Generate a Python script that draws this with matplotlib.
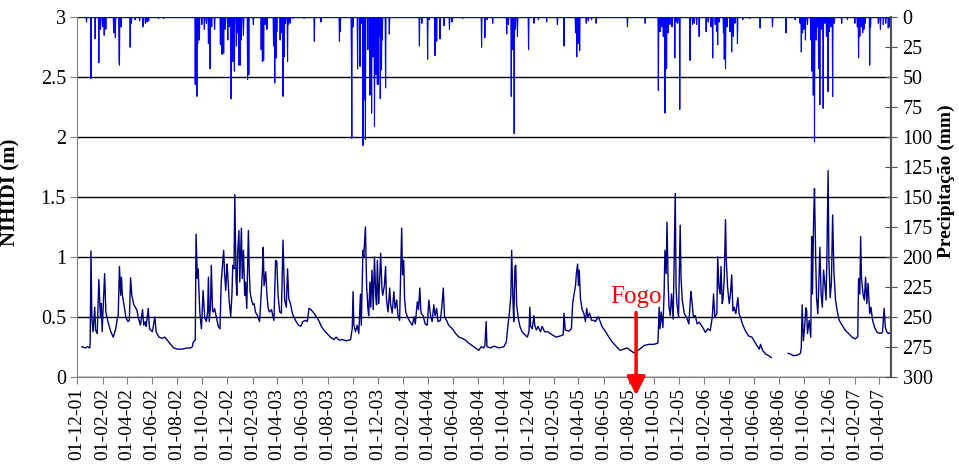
import numpy as np
import pandas as pd
import matplotlib
matplotlib.use("Agg")
import matplotlib.pyplot as plt
import matplotlib.dates as mdates
from matplotlib.ticker import FuncFormatter

# dias contados a partir de 01-12-2001
inicio = pd.Timestamp("2001-12-01")
n_dias = 1975

# NIHIDI (m) - nivel
nihidi_dia = [
    12, 20, 25, 31, 32, 34, 36, 39, 43, 45,
    49, 53, 57, 59, 61, 67, 70, 75, 82, 88,
    94, 98, 100, 103, 106, 108, 110, 114, 119, 124,
    127, 130, 133, 138, 145, 149, 154, 159, 162, 166,
    168, 173, 176, 183, 189, 192, 199, 207, 213, 219,
    227, 235, 243, 255, 268, 276, 280, 282, 287, 289,
    292, 294, 298, 302, 306, 310, 314, 317, 319, 321,
    324, 326, 329, 331, 334, 338, 343, 347, 350, 352,
    356, 358, 361, 364, 366, 369, 373, 376, 378, 381,
    383, 386, 388, 390, 393, 395, 399, 401, 404, 407,
    409, 412, 416, 418, 420, 423, 427, 430, 433, 438,
    443, 446, 450, 452, 454, 458, 461, 464, 467, 472,
    478, 482, 485, 488, 492, 496, 500, 503, 504, 508,
    511, 514, 518, 522, 526, 532, 538, 543, 548, 555,
    559, 563, 568, 575, 583, 588, 593, 599, 607, 615,
    623, 629, 636, 644, 652, 660, 664, 668, 670, 672,
    676, 680, 684, 688, 690, 694, 696, 698, 700, 703,
    706, 708, 711, 713, 716, 719, 722, 725, 727, 729,
    732, 734, 737, 740, 742, 746, 749, 751, 755, 759,
    761, 765, 769, 772, 776, 779, 783, 788, 790, 793,
    795, 798, 803, 808, 814, 818, 821, 826, 829, 832,
    835, 840, 845, 850, 854, 858, 862, 866, 869, 873,
    876, 882, 886, 889, 892, 897, 902, 911, 919, 927,
    935, 943, 951, 959, 967, 975, 981, 987, 990, 993,
    995, 1004, 1012, 1024, 1036, 1042, 1046, 1049, 1053, 1055,
    1058, 1060, 1063, 1065, 1067, 1071, 1075, 1080, 1087, 1093,
    1097, 1099, 1101, 1105, 1109, 1111, 1115, 1119, 1125, 1129,
    1135, 1143, 1153, 1163, 1173, 1180, 1182, 1185, 1194, 1200,
    1203, 1206, 1210, 1212, 1215, 1217, 1219, 1222, 1226, 1230,
    1234, 1237, 1240, 1244, 1249, 1254, 1258, 1265, 1270, 1274,
    1283, 1291, 1299, 1307, 1315, 1319, 1327, 1335, 1343, 1351,
    1358, 1366, 1376, 1388, 1400, 1410, 1413, 1415, 1418, 1422,
    1425, 1427, 1430, 1432, 1435, 1437, 1440, 1443, 1447, 1452,
    1454, 1456, 1460, 1464, 1466, 1469, 1474, 1479, 1485, 1490,
    1492, 1496, 1501, 1505, 1510, 1515, 1519, 1525, 1531, 1537,
    1542, 1545, 1548, 1553, 1555, 1558, 1561, 1563, 1566, 1568,
    1571, 1574, 1576, 1579, 1583, 1586, 1589, 1592, 1595, 1599,
    1604, 1607, 1610, 1615, 1622, 1630, 1638, 1645, 1650, 1656,
    1659, 1664, 1671, 1679, 1685,
    1726, 1731, 1739, 1748, 1756, 1758, 1760, 1763, 1766, 1769,
    1771, 1773, 1777, 1781, 1783, 1785, 1788, 1790, 1793, 1795,
    1798, 1800, 1803, 1806, 1809, 1812, 1815, 1818, 1820, 1823,
    1825, 1828, 1831, 1834, 1837, 1841, 1845, 1850, 1857, 1865,
    1873, 1881, 1889, 1895, 1897, 1900, 1902, 1904, 1908, 1911,
    1914, 1917, 1920, 1924, 1927, 1931, 1936, 1942, 1950, 1955,
    1959, 1962, 1966, 1970, 1974,
]
nihidi_m = [
    0.25, 0.24, 0.25, 0.24, 0.29, 1.05, 0.49, 0.375, 0.58, 0.39,
    0.36, 0.81, 0.49, 0.61, 0.375, 0.86, 0.54, 0.46, 0.375, 0.33,
    0.40, 0.49, 0.51, 0.92, 0.68, 0.83, 0.68, 0.60, 0.49, 0.46,
    0.47, 0.825, 0.68, 0.60, 0.56, 0.49, 0.43, 0.56, 0.43, 0.46,
    0.42, 0.57, 0.40, 0.375, 0.50, 0.375, 0.33, 0.32, 0.33, 0.305,
    0.27, 0.24, 0.23, 0.23, 0.24, 0.24, 0.25, 0.29, 0.305, 1.19,
    0.82, 0.90, 0.54, 0.40, 0.72, 0.49, 0.46, 0.54, 0.83, 0.46,
    0.59, 0.93, 0.55, 0.54, 0.57, 0.50, 0.42, 0.40, 0.79, 0.875,
    1.055, 0.875, 0.72, 0.94, 0.85, 0.65, 0.50, 0.68, 0.93, 0.90,
    1.52, 0.82, 0.68, 1.04, 1.22, 0.79, 1.24, 0.82, 1.055, 0.68,
    0.79, 0.57, 1.22, 0.90, 0.71, 0.65, 0.60, 0.61, 0.54, 0.51,
    0.46, 0.625, 0.875, 1.08, 0.76, 0.875, 0.68, 0.57, 0.54, 0.56,
    0.47, 0.97, 0.96, 0.68, 0.54, 0.53, 1.14, 0.76, 0.64, 0.58,
    0.90, 0.65, 0.61, 0.54, 0.50, 0.46, 0.43, 0.42, 0.46, 0.47,
    0.46, 0.57, 0.56, 0.53, 0.49, 0.46, 0.42, 0.39, 0.36, 0.33,
    0.31, 0.33, 0.305, 0.31, 0.30, 0.305, 0.31, 0.40, 0.71, 0.43,
    0.375, 0.43, 0.36, 0.69, 0.43, 1.055, 1.0, 1.125, 1.25, 0.76,
    0.57, 0.51, 0.79, 0.58, 0.89, 0.56, 1.0, 0.68, 0.60, 0.97,
    0.61, 0.76, 1.03, 0.74, 0.68, 0.76, 0.92, 0.65, 0.54, 0.74,
    0.61, 0.53, 0.71, 0.57, 0.64, 0.51, 0.47, 1.24, 0.85, 0.97,
    0.65, 0.54, 0.49, 0.46, 0.43, 0.50, 0.44, 0.625, 0.56, 0.74,
    0.53, 0.51, 0.44, 0.43, 0.64, 0.51, 0.46, 0.60, 0.51, 0.57,
    0.46, 0.47, 0.60, 0.74, 0.50, 0.47, 0.43, 0.40, 0.36, 0.33,
    0.32, 0.305, 0.28, 0.26, 0.24, 0.22, 0.25, 0.24, 0.26, 0.46,
    0.25, 0.24, 0.255, 0.24, 0.25, 0.29, 0.43, 0.51, 0.68, 1.055,
    0.65, 0.46, 0.92, 0.93, 0.60, 0.49, 0.42, 0.375, 0.35, 0.33,
    0.375, 0.58, 0.42, 0.40, 0.51, 0.43, 0.39, 0.42, 0.375, 0.42,
    0.375, 0.375, 0.35, 0.33, 0.34, 0.35, 0.53, 0.39, 0.38, 0.40,
    0.61, 0.68, 0.76, 0.86, 0.94, 0.76, 0.89, 0.65, 0.56, 0.53,
    0.46, 0.57, 0.50, 0.53, 0.47, 0.47, 0.46, 0.50, 0.46, 0.42,
    0.375, 0.33, 0.29, 0.26, 0.23, 0.22, 0.23, 0.24, 0.22, 0.20,
    0.21, 0.23, 0.26, 0.27, 0.27, 0.28, 0.58, 0.40, 0.54, 0.41,
    0.70, 1.055, 0.86, 1.29, 0.75, 0.58, 0.51, 0.69, 0.48, 1.53,
    0.75, 0.61, 0.50, 1.265, 0.83, 0.64, 0.525, 0.50, 0.44, 0.71,
    0.65, 0.50, 0.51, 0.44, 0.455, 0.43, 0.41, 0.37, 0.40, 0.385,
    0.50, 0.69, 0.50, 0.525, 1.0, 0.75, 0.69, 0.92, 0.61, 0.65,
    0.83, 1.31, 0.97, 0.75, 0.61, 0.69, 0.85, 0.55, 0.58, 0.525,
    0.66, 0.525, 0.50, 0.44, 0.385, 0.34, 0.33, 0.29, 0.26, 0.23,
    0.27, 0.22, 0.19, 0.175, 0.16,
    0.195, 0.19, 0.175, 0.18, 0.195, 0.245, 0.60, 0.30, 0.41, 0.575,
    0.55, 0.36, 0.47, 0.33, 1.17, 0.69, 1.335, 1.57, 0.97, 0.66,
    0.525, 0.72, 1.08, 0.69, 0.58, 0.89, 0.78, 0.64, 0.97, 1.72,
    0.97, 0.66, 0.78, 1.35, 0.89, 0.64, 0.55, 0.47, 0.43, 0.385,
    0.36, 0.33, 0.315, 0.335, 0.82, 0.69, 1.17, 0.83, 0.68, 0.64,
    0.83, 0.61, 0.78, 0.525, 0.58, 0.47, 0.41, 0.37, 0.36, 0.37,
    0.57, 0.41, 0.37, 0.36, 0.37,
]

# Precipitacao (mm) - dias com chuva
chuva_dia = [
    23, 34, 44, 53, 57, 62, 66, 70, 89, 93,
    102, 103, 107, 129, 132, 141, 152, 160, 166, 170,
    174, 198, 210, 287, 291, 293, 297, 303, 309, 314,
    319, 323, 327, 334, 348, 352, 356, 360, 366, 370,
    374, 378, 382, 387, 390, 393, 396, 399, 404, 414,
    417, 428, 447, 450, 453, 457, 461, 477, 480, 483,
    485, 493, 497, 500, 503, 506, 511, 513, 517, 524,
    551, 576, 592, 637, 639, 666, 667, 670, 681, 687,
    690, 694, 697, 700, 706, 711, 715, 718, 722, 726,
    729, 731, 733, 736, 739, 741, 749, 758, 831, 837,
    851, 855, 869, 873, 881, 891, 904, 910, 936, 982,
    990, 995, 1009, 1043, 1047, 1054, 1058, 1061, 1064, 1069,
    1096, 1109, 1120, 1140, 1166, 1182, 1210, 1213, 1216, 1220,
    1236, 1241, 1249, 1260, 1336, 1379, 1411, 1415, 1419, 1423,
    1427, 1431, 1435, 1439, 1444, 1451, 1455, 1458, 1463, 1488,
    1494, 1498, 1504, 1510, 1527, 1532, 1539, 1543, 1549, 1553,
    1555, 1559, 1569, 1571, 1574, 1578, 1585, 1589, 1593, 1597,
    1603, 1616, 1633, 1658, 1688, 1721, 1743, 1755, 1758, 1761,
    1764, 1768, 1773, 1781, 1784, 1787, 1790, 1794, 1797, 1800,
    1803, 1807, 1811, 1815, 1819, 1823, 1826, 1830, 1834, 1838,
    1856, 1870, 1888, 1894, 1897, 1900, 1904, 1907, 1910, 1913,
    1924, 1926, 1945, 1950, 1957, 1963, 1969, 1973,
]
chuva_mm = [
    4, 51, 18, 38, 10, 8, 15, 10, 13, 17,
    36, 40, 8, 25, 5, 2, 3, 8, 5, 4,
    3, 1, 1, 56, 66, 22, 19, 6, 10, 5,
    22, 43, 8, 10, 23, 31, 30, 10, 19, 8,
    68, 37, 45, 24, 13, 40, 40, 19, 15, 52,
    48, 6, 27, 37, 36, 6, 10, 24, 55, 34,
    12, 19, 13, 66, 33, 5, 37, 6, 5, 1,
    1, 20, 4, 20, 12, 30, 101, 8, 43, 41,
    5, 107, 69, 102, 27, 65, 80, 33, 91, 48,
    56, 56, 16, 68, 44, 19, 59, 14, 24, 5,
    35, 2, 32, 20, 18, 7, 10, 4, 1, 25,
    17, 2, 5, 14, 6, 66, 27, 97, 10, 16,
    27, 5, 2, 4, 6, 24, 13, 33, 22, 28,
    5, 3, 2, 5, 8, 5, 61, 12, 8, 16,
    80, 43, 13, 6, 8, 34, 4, 5, 77, 36,
    6, 5, 6, 16, 12, 4, 8, 34, 6, 12,
    23, 4, 13, 35, 43, 8, 12, 29, 16, 5,
    22, 2, 1, 9, 8, 13, 2, 5, 29, 13,
    10, 19, 6, 19, 45, 65, 104, 19, 8, 43,
    73, 10, 76, 5, 16, 62, 12, 8, 66, 5,
    5, 2, 5, 8, 34, 16, 8, 13, 10, 5,
    40, 8, 5, 10, 6, 5, 9, 8,
]

fogo_dia = 1357

plt.rcParams["font.family"] = ["Liberation Serif", "DejaVu Serif"]

# nivel: falha de registo entre as epocas -> NaN
dias = np.array(nihidi_dia, dtype=float)
nivel = np.array(nihidi_m, dtype=float)
falha = np.where(np.diff(dias) > 30)[0] + 1
dias = np.insert(dias, falha, dias[falha - 1] + 1)
nivel = np.insert(nivel, falha, np.nan)
datas_nivel = inicio + pd.to_timedelta(dias, unit="D")

# chuva diaria (zero nos dias sem registo de chuva)
dias_chuva = np.arange(10, n_dias)
chuva = np.zeros(len(dias_chuva))
chuva[np.array(chuva_dia) - 10] = chuva_mm
datas_chuva = inicio + pd.to_timedelta(dias_chuva, unit="D")

fig = plt.figure(figsize=(9.59, 4.67), dpi=100)
ax = fig.add_axes([0.0803, 0.1934, 0.8485, 0.7696])
ax2 = ax.twinx()

ax.set_axisbelow(True)
ax.yaxis.grid(True, color="black", linewidth=1.0)
ax.plot(datas_nivel, nivel, color="#000080", linewidth=1.0)
ax2.plot(datas_chuva, chuva, color="#0000FF", linewidth=0.8)

ax.set_xlim(inicio, inicio + pd.Timedelta(days=n_dias))
ax.set_ylim(0, 3)
ax.set_yticks(np.arange(0, 3.01, 0.5))
ax.yaxis.set_major_formatter(FuncFormatter(lambda v, p: f"{v:g}"))
ax2.set_ylim(300, 0)
ax2.set_yticks(np.arange(0, 301, 25))

ax.xaxis.set_major_locator(mdates.MonthLocator(bymonth=(2, 4, 6, 8, 10, 12)))
ax.xaxis.set_major_formatter(mdates.DateFormatter("%d-%m-%y"))
ax.tick_params(axis="x", rotation=90, labelsize=14, length=5, color="#808080", pad=3)
ax.tick_params(axis="y", labelsize=14.5, length=5, color="#808080", pad=3)
ax2.tick_params(axis="y", labelsize=14.5, direction="inout", length=9,
                color="#505050", pad=4)

for s in ["top", "right"]:
    ax.spines[s].set_visible(False)
for s in ["top", "left", "bottom"]:
    ax2.spines[s].set_visible(False)
ax.spines["left"].set_color("#808080")
ax.spines["bottom"].set_color("#808080")
ax2.spines["right"].set_color("#505050")
ax2.spines["right"].set_linewidth(1.5)

ax.set_ylabel("NIHIDI (m)", fontsize=15, fontweight="bold")
ax.yaxis.set_label_coords(-0.070, 0.514)
ax2.set_ylabel("Precipitação (mm)", fontsize=14, fontweight="bold", rotation=90)
ax2.yaxis.set_label_coords(1.058, 0.545)

# Fogo
data_fogo = inicio + pd.Timedelta(days=fogo_dia)
ax.text(data_fogo, 0.665, "Fogo", color="red", fontsize=18,
        ha="center", va="center")
ax.annotate(
    "",
    xy=(data_fogo, -0.155),
    xytext=(data_fogo, 0.535),
    arrowprops=dict(
        arrowstyle="-|>,head_width=0.4,head_length=0.8",
        color="red", lw=2.5, mutation_scale=14, shrinkA=0, shrinkB=0,
    ),
    annotation_clip=False,
)

fig.savefig("out.png", dpi=100)
